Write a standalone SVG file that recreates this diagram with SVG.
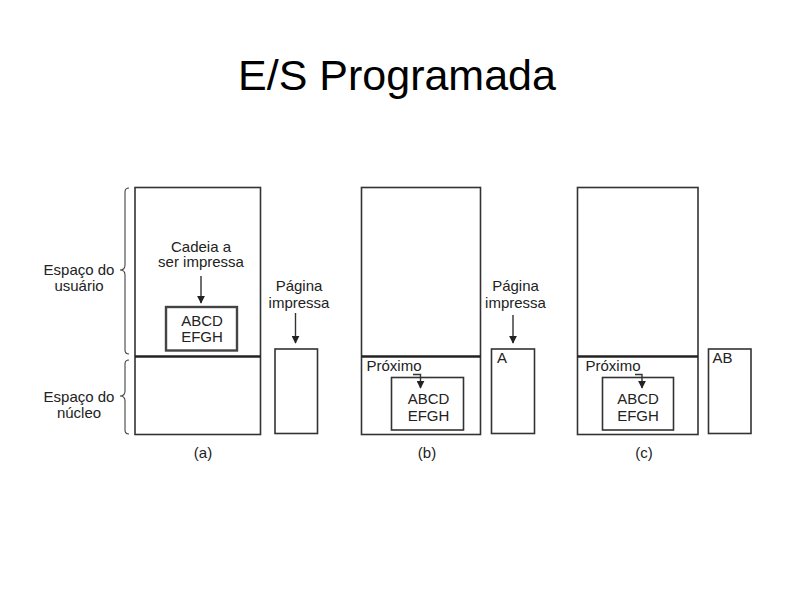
<svg xmlns="http://www.w3.org/2000/svg" width="794" height="595" viewBox="0 0 794 595">
<defs>
<style>
.t{font-family:"Liberation Sans",Arial,sans-serif;font-size:15px;fill:#222}
.c{text-anchor:middle}
.box{fill:none;stroke:#333;stroke-width:1.6}
.div{stroke:#222;stroke-width:2.4}
.ln{fill:none;stroke:#333;stroke-width:1.4}
.br{fill:none;stroke:#444;stroke-width:1.1}
</style>
<marker id="ah" viewBox="0 0 10 10" refX="9" refY="5" markerWidth="8" markerHeight="8" markerUnits="userSpaceOnUse" orient="auto">
<path d="M0,0 L10,5 L0,10 z" fill="#222"/>
</marker>
</defs>
<rect width="794" height="595" fill="#fff"/>
<text x="397" y="90" font-family="Liberation Sans,Arial,sans-serif" font-size="43" text-anchor="middle" fill="#000">E/S Programada</text>

<g id="a-labels">
<text class="t" x="79" y="275" text-anchor="middle">Espaço do</text>
<text class="t" x="79" y="291" text-anchor="middle">usuário</text>
<text class="t" x="79" y="402" text-anchor="middle">Espaço do</text>
<text class="t" x="79" y="418" text-anchor="middle">núcleo</text>
<path class="br" d="M129,188 Q125,188 125,192 L125,265 Q125,270 120,270 Q125,270 125,275 L125,350 Q125,354 129,354"/>
<path class="br" d="M129,360 Q125,360 125,364 L125,391 Q125,396 120,396 Q125,396 125,401 L125,430 Q125,434 129,434"/>
</g>

<g id="a-memory">
<rect class="box" x="135" y="187.5" width="125.5" height="247"/>
<line class="div" x1="135" y1="356.5" x2="260.5" y2="356.5"/>
<text class="t c" x="201" y="251.5">Cadeia a</text>
<text class="t c" x="201" y="267">ser impressa</text>
</g>
<g id="a-string">
<rect x="166" y="307" width="71" height="43.5" fill="none" stroke="#444" stroke-width="2.4"/>
<text class="t c" x="202" y="326">ABCD</text>
<text class="t c" x="202" y="342">EFGH</text>
</g>
<g id="a-page">
<rect class="box" x="275" y="349" width="42.5" height="84.5"/>
<text class="t c" x="299" y="291">Página</text>
<text class="t c" x="299" y="307.5">impressa</text>
</g>
<text id="a-cap" class="t c" x="203" y="458">(a)</text>

<g id="b-memory">
<rect class="box" x="361.5" y="187.5" width="119" height="247"/>
<line class="div" x1="361.5" y1="356.5" x2="480.5" y2="356.5"/>
<text class="t" x="366.5" y="370.5">Próximo</text>
</g>
<g id="b-string">
<rect class="box" x="391.5" y="377.5" width="72" height="52.5"/>
<text class="t c" x="428.5" y="404">ABCD</text>
<text class="t c" x="428.5" y="420.5">EFGH</text>
</g>
<g id="b-page">
<rect class="box" x="491.5" y="349" width="43" height="84.5"/>
<text class="t" x="497" y="363">A</text>
<text class="t c" x="515.5" y="291">Página</text>
<text class="t c" x="515.5" y="307.5">impressa</text>
</g>
<text id="b-cap" class="t c" x="427" y="458">(b)</text>

<g id="c-memory">
<rect class="box" x="577.5" y="187.5" width="120.5" height="247"/>
<line class="div" x1="577.5" y1="356.5" x2="698" y2="356.5"/>
<text class="t" x="585.5" y="370.5">Próximo</text>
</g>
<g id="c-string">
<rect class="box" x="602.5" y="377.5" width="71" height="52.5"/>
<text class="t c" x="638" y="404">ABCD</text>
<text class="t c" x="638" y="420.5">EFGH</text>
</g>
<g id="c-page">
<rect class="box" x="708.5" y="349" width="42.5" height="84.5"/>
<text class="t" x="712.5" y="363">AB</text>
</g>
<text id="c-cap" class="t c" x="644" y="458">(c)</text>

<g id="connectors">
<line class="ln" x1="201" y1="276" x2="201" y2="303" marker-end="url(#ah)"/>
<line class="ln" x1="295.5" y1="313" x2="295.5" y2="343" marker-end="url(#ah)"/>
<line class="ln" x1="513" y1="315" x2="513" y2="343" marker-end="url(#ah)"/>
<path class="ln" d="M413,374.5 L420.5,374.5 L420.5,388" marker-end="url(#ah)"/>
<path class="ln" d="M635,374.5 L642,374.5 L642,388" marker-end="url(#ah)"/>
</g>
</svg>
